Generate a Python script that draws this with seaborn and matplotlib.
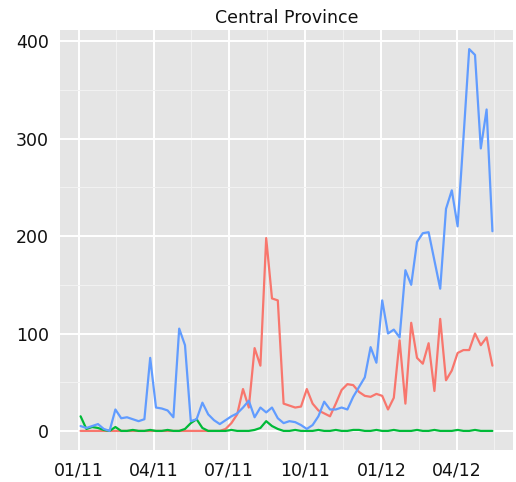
import numpy as np
import pandas as pd
import matplotlib
matplotlib.use("Agg")
import matplotlib.pyplot as plt
import matplotlib.dates as mdates
import seaborn as sns

# Weekly counts, Central Province
weeks = pd.date_range("2011-01-03", periods=72, freq="7D")

blue_counts = [5, 3, 5, 7, 2, 0, 22, 13, 14, 12, 10, 12, 75, 24, 23, 21, 14, 105,
               88, 10, 12, 29, 17, 11, 7, 11, 15, 18, 24, 31, 14, 24, 19, 24, 13, 8,
               10, 9, 6, 2, 6, 15, 30, 22, 22, 24, 22, 35, 45, 55, 86, 70, 134, 100,
               104, 96, 165, 150, 194, 203, 204, 175, 146, 228, 247, 210, 300, 392,
               386, 290, 330, 205]
red_counts = [0, 0, 0, 0, 0, 0, 0, 0, 0, 0, 0, 0, 0, 0, 0, 0, 0, 0,
              0, 0, 0, 0, 0, 0, 0, 2, 8, 17, 43, 24, 85, 67, 198, 136, 134, 28,
              26, 24, 25, 43, 28, 21, 18, 15, 28, 42, 48, 47, 40, 36, 35, 38, 36, 22,
              34, 93, 28, 111, 75, 69, 90, 41, 115, 52, 62, 80, 83, 83,
              100, 88, 96, 67]
green_counts = [15, 2, 4, 3, 1, 0, 4, 0, 0, 1, 0, 0, 1, 0, 0, 1, 0, 0,
                2, 8, 12, 3, 0, 0, 0, 0, 1, 0, 0, 0, 1, 3, 10, 5, 2, 0,
                0, 1, 0, 0, 0, 1, 0, 0, 1, 0, 0, 1, 1, 0, 0, 1, 0, 0,
                1, 0, 0, 0, 1, 0, 0, 1, 0, 0, 0, 1, 0, 0,
                1, 0, 0, 0]

series_names = ["a", "b", "c"]
palette = {"a": "#F8766D", "b": "#00BA38", "c": "#619CFF"}

df = pd.concat([
    pd.DataFrame({"week": weeks, "count": red_counts, "series": "a"}),
    pd.DataFrame({"week": weeks, "count": green_counts, "series": "b"}),
    pd.DataFrame({"week": weeks, "count": blue_counts, "series": "c"}),
])

sns.set_style("white")
plt.rcParams["font.family"] = ["DejaVu Sans"]

fig = plt.figure(figsize=(5.16, 4.82), dpi=100)
ax = fig.add_axes([60 / 516, 32 / 482, 453 / 516, 420 / 482])
ax.set_facecolor("#E5E5E5")

sns.lineplot(data=df, x="week", y="count", hue="series", hue_order=series_names,
             palette=palette, linewidth=1.6, legend=False, ax=ax, zorder=3)

# axis limits with 5% padding like ggplot
t0, t1 = mdates.date2num(weeks[0]), mdates.date2num(weeks[-1])
pad = (t1 - t0) * 0.05
ax.set_xlim(t0 - pad, t1 + pad)
ymax = max(max(blue_counts), max(red_counts), max(green_counts))
ax.set_ylim(-ymax * 0.05, ymax * 1.05)

major_dates = pd.to_datetime(["2011-01-01", "2011-04-01", "2011-07-01",
                              "2011-10-01", "2012-01-01", "2012-04-01"])
major_num = mdates.date2num(major_dates)
step = major_num[1] - major_num[0]
minor_num = [(a + b) / 2 for a, b in zip(major_num[:-1], major_num[1:])]
minor_num.append(major_num[-1] + (major_num[-1] - major_num[-2]) / 2)
ax.set_xticks(major_num)
ax.set_xticklabels([d.strftime("%m/%y") for d in major_dates])
ax.set_xticks(minor_num, minor=True)

ax.set_yticks([0, 100, 200, 300, 400])
ax.set_yticks([50, 150, 250, 350], minor=True)

ax.grid(which="major", color="white", linewidth=1.4, zorder=0)
ax.grid(which="minor", color="#F2F2F2", linewidth=0.7, zorder=0)
ax.set_axisbelow(True)

for s in ax.spines.values():
    s.set_visible(False)

ax.tick_params(which="major", length=4, width=0.8, color="#555555",
               labelsize=12.5, labelcolor="#111111", pad=4)
ax.tick_params(which="minor", length=0)

ax.set_xlabel("")
ax.set_ylabel("")
ax.set_title("Central Province", fontsize=12.5, color="#111111", pad=5)

fig.savefig("out.png", dpi=100)
